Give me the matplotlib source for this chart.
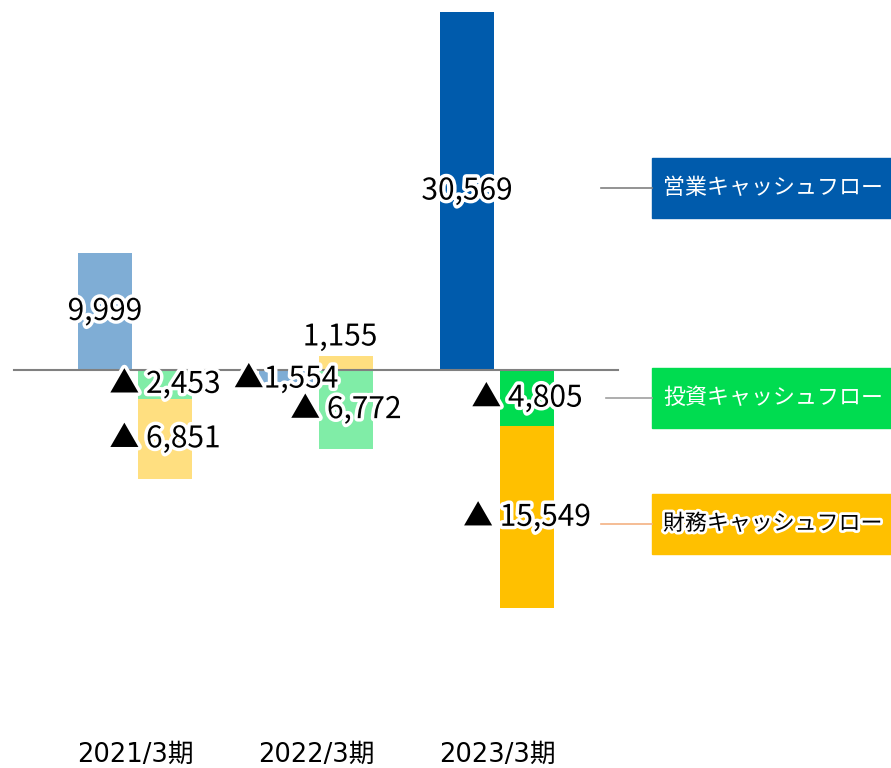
import matplotlib.pyplot as plt
import matplotlib.patheffects as pe
from matplotlib.patches import Rectangle

plt.rcParams['font.family'] = ['Noto Sans CJK JP', 'DejaVu Sans']

# data (million yen)
years = ['2021/3期', '2022/3期', '2023/3期']
operating = [9999, -1554, 30569]
investing = [-2453, -6772, -4805]
financing = [-6851, 1155, -15549]

series_names = ['営業キャッシュフロー', '投資キャッシュフロー', '財務キャッシュフロー']
base_colors = ['#005BAC', '#00DC50', '#FFC000']
pale_colors = ['#7FADD5', '#80EDA7', '#FFDF80']

# pixel layout helpers (figure is 891x768 at 100 dpi)
W, H = 891, 768
X0, DX = 135, 181          # px centre of first group, px per group
Y0, SY = 370, 0.01171      # px of zero line, px per unit

fig = plt.figure(figsize=(W / 100, H / 100), dpi=100)
ax = fig.add_axes([0, 0, 1, 1])
ax.set_xlim(-X0 / DX, (W - X0) / DX)
ax.set_ylim((Y0 - H) / SY, Y0 / SY)
ax.axis('off')

off = 30 / DX
width = 54 / DX
halo = [pe.withStroke(linewidth=5, foreground='white')]
fs = 21.5


def fmt(v, sep=' '):
    return f'{v:,}' if v >= 0 else f'▲{sep}{abs(v):,}'


for i, yr in enumerate(years):
    cols = base_colors if i == len(years) - 1 else pale_colors
    # operating bar
    ax.bar(i - off, operating[i], width=width, color=cols[0], zorder=2)
    ax.text(i - off, operating[i] / 2, fmt(operating[i], sep=''), ha='center', va='center',
            fontsize=fs, path_effects=halo, zorder=4)

    # investing + financing stacked on the right
    neg_base = 0
    pos_base = 0
    for val, col in [(investing[i], cols[1]), (financing[i], cols[2])]:
        if val < 0:
            bottom = neg_base
            neg_base += val
            ax.bar(i + off, val, width=width, bottom=bottom, color=col, zorder=2)
            ax.text(i + off, bottom + val / 2, fmt(val), ha='center', va='center',
                    fontsize=fs, path_effects=halo, zorder=4)
        else:
            bottom = pos_base
            pos_base += val
            ax.bar(i + off, val, width=width, bottom=bottom, color=col, zorder=2)
            ax.annotate(fmt(val), (i + off, bottom + val), xytext=(-6, 4),
                        textcoords='offset pixels', ha='center', va='bottom',
                        fontsize=fs, path_effects=halo, zorder=4)

    ax.text(i, (Y0 - 755) / SY, yr, ha='center', va='center', fontsize=18.5,
            family=['DejaVu Sans', 'Noto Sans CJK JP'])

# zero line
ax.plot([(14 - X0) / DX, (618 - X0) / DX], [0, 0], color='#808080', lw=1.5, zorder=3)

# legend boxes on the right, linked to the 2023 segments
boxes = [(158, '#808080', 601), (368, '#A0A0A0', 606), (494, '#F4B183', 601)]
for (top, line_col, lx), name, col in zip(boxes, series_names, base_colors):
    y_top = 1 - top / H
    bh = 60 / H
    bx = 652 / W
    fig.patches.append(Rectangle((bx, y_top - bh), 1 - bx, bh, transform=fig.transFigure,
                                 color=col, zorder=1))
    yc = y_top - bh / 2
    fig.lines.append(plt.Line2D([lx / W, bx], [yc, yc], transform=fig.transFigure,
                                color=line_col, lw=1.2))
    tx = 773 / W
    if col == '#FFC000':
        fig.text(tx, yc, name, ha='center', va='center', fontsize=15.8, color='black',
                 path_effects=[pe.withStroke(linewidth=4, foreground='white')])
    else:
        fig.text(tx, yc, name, ha='center', va='center', fontsize=15.8, color='white')

fig.savefig('out.png', dpi=100)
